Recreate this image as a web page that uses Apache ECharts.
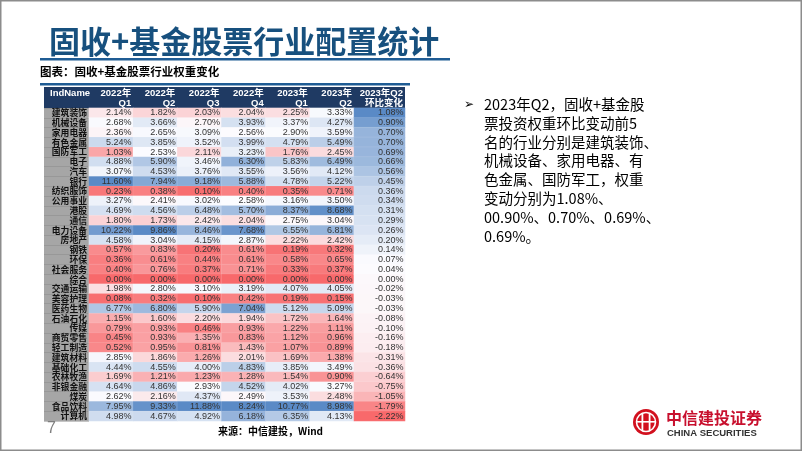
<!DOCTYPE html>
<html><head><meta charset="utf-8">
<script src="https://cdn.jsdelivr.net/npm/echarts@6/dist/echarts.min.js"></script>
<style>html,body{margin:0;padding:0;background:#fff}#c{width:802px;height:451px}</style>
</head><body><div id="c"></div>
<script>
const industries = ['建筑装饰','机械设备','家用电器','有色金属','国防军工','电子','汽车','银行','纺织服饰','公用事业','港股','通信','电力设备','房地产','钢铁','环保','社会服务','综合','交通运输','美容护理','医药生物','石油石化','传媒','商贸零售','轻工制造','建筑材料','基础化工','农林牧渔','非银金融','煤炭','食品饮料','计算机'];
const headers = ['2022年\nQ1','2022年\nQ2','2022年\nQ3','2022年\nQ4','2023年\nQ1','2023年\nQ2'];
const changeHeader = '2023年Q2\n环比变化';
const q2022Q1 = [2.14,2.68,2.36,5.24,1.03,4.88,3.07,11.60,0.23,3.27,4.69,1.80,10.22,4.58,0.57,0.36,0.40,0.00,1.98,0.08,6.77,1.15,0.79,0.45,0.52,2.85,4.44,1.69,4.64,2.62,7.95,4.98];
const q2022Q2 = [1.82,3.66,2.65,3.85,2.53,5.90,4.53,7.94,0.38,2.41,4.56,1.73,9.86,3.04,0.83,0.61,0.76,0.00,2.80,0.32,6.80,1.60,0.93,0.93,0.95,1.86,4.55,1.21,4.86,2.16,9.33,4.67];
const q2022Q3 = [2.03,2.70,3.09,3.52,2.11,3.46,3.76,9.18,0.10,3.02,6.48,2.42,8.46,4.15,0.20,0.44,0.37,0.00,3.10,0.10,5.90,2.20,0.46,1.35,0.81,1.26,4.00,1.23,2.93,4.37,11.88,4.92];
const q2022Q4 = [2.04,3.93,2.56,3.99,3.23,6.30,3.55,5.88,0.40,2.58,5.70,2.04,7.68,2.87,0.61,0.61,0.71,0.00,3.19,0.42,7.04,1.94,0.93,0.83,1.43,2.01,4.83,1.28,4.52,2.49,8.24,6.18];
const q2023Q1 = [2.25,3.37,2.90,4.79,1.76,5.83,3.56,4.78,0.35,3.16,8.37,2.75,6.55,2.22,0.19,0.58,0.33,0.00,4.07,0.19,5.12,1.72,1.22,1.12,1.07,1.69,3.85,1.54,4.02,3.53,10.77,6.35];
const q2023Q2 = [3.33,4.27,3.59,5.49,2.45,6.49,4.12,5.22,0.71,3.50,8.68,3.04,6.81,2.42,0.32,0.65,0.37,0.00,4.05,0.15,5.09,1.64,1.11,0.96,0.89,1.38,3.49,0.90,3.27,2.48,8.98,4.13];
const change = [1.08,0.90,0.70,0.70,0.69,0.66,0.56,0.45,0.36,0.34,0.31,0.29,0.26,0.20,0.14,0.07,0.04,0.00,-0.02,-0.03,-0.03,-0.08,-0.10,-0.16,-0.18,-0.31,-0.36,-0.64,-0.75,-1.05,-1.79,-2.22];

const columns = [q2022Q1,q2022Q2,q2022Q3,q2022Q4,q2023Q1,q2023Q2];

// Excel-style 3 colour scale: min -> red, 50th percentile -> white, max -> blue
function scaler(arr){
  const s = arr.slice().sort((a,b)=>a-b);
  const n = s.length;
  const pos = (n-1)*0.5, lo = Math.floor(pos), hi = Math.ceil(pos);
  const mid = s[lo] + (s[hi]-s[lo])*(pos-lo);
  const mn = s[0], mx = s[n-1];
  return v => v <= mid ? (mid===mn?0.5:0.5*(v-mn)/(mid-mn)) : 0.5 + 0.5*(v-mid)/(mx-mid);
}
const data0 = [];
columns.forEach((col,c)=>{ const f = scaler(col); col.forEach((v,r)=>data0.push([c,r,v,f(v)])); });
const fc = scaler(change);
const data1 = change.map((v,r)=>[0,r,v,fc(v)]);

const chart = echarts.init(document.getElementById('c'), null, {renderer:'canvas'});
const numLabel = {show:true, position:'insideRight', distance:2, fontFamily:'Liberation Sans, Arial', fontSize:9, color:'#333',
  formatter:p=>p.value[2].toFixed(2)+'%'};
const hdrLabel = {color:'#fff', fontWeight:'bold', fontFamily:'Liberation Sans, Noto Sans CJK SC', fontSize:9.5, lineHeight:10, align:'right', padding:[0,2,0,0], margin:0};
const bulletLines = ['2023年Q2，固收+基金股','票投资权重环比变动前5','名的行业分别是建筑装饰、','机械设备、家用电器、有','色金属、国防军工，权重','变动分别为1.08%、','00.90%、0.70%、0.69%、','0.69%。'];

chart.setOption({
  animation:false,
  backgroundColor:'#fff',
  grid:[{left:89, top:108, width:265, height:313},{left:354, top:108, width:51, height:313}],
  xAxis:[
    {type:'category', gridIndex:0, data:[0,1,2,3,4,5], show:false},
    {type:'category', gridIndex:1, data:[0], show:false},
    {type:'value', gridIndex:0, position:'top', min:0, max:6, interval:1, axisLine:{show:false}, axisTick:{show:false}, splitLine:{show:false},
      axisLabel:Object.assign({showMaxLabel:true, showMinLabel:true, formatter:v=> v>=1 ? headers[v-1] : ''}, hdrLabel)},
    {type:'value', gridIndex:1, position:'top', min:0, max:1, interval:1, axisLine:{show:false}, axisTick:{show:false}, splitLine:{show:false},
      axisLabel:Object.assign({showMaxLabel:true, showMinLabel:true, formatter:v=> v===1 ? changeHeader : ''}, hdrLabel)}
  ],
  yAxis:[
    {type:'category', gridIndex:0, data:industries, inverse:true, axisLine:{show:false},
      axisTick:{show:true, interval:0, length:45, lineStyle:{color:'#8a8a8a', width:0.5}},
      axisLabel:{interval:0, margin:2, fontSize:8.8, lineHeight:9, fontWeight:'bold', color:'#111', fontFamily:'Noto Sans CJK SC', align:'right', verticalAlign:'middle', padding:[0,0,1,0]}},
    {type:'category', gridIndex:1, data:industries, inverse:true, show:false}
  ],
  visualMap:{type:'continuous', show:false, dimension:3, min:0, max:1, seriesIndex:[0,1], inRange:{color:['#F8696B','#FCFCFF','#5A8AC6']}},
  series:[
    {type:'heatmap', xAxisIndex:0, yAxisIndex:0, data:data0, label:numLabel, itemStyle:{borderColor:'rgba(255,255,255,0.35)', borderWidth:0.3}},
    {type:'heatmap', xAxisIndex:1, yAxisIndex:1, data:data1, label:numLabel, itemStyle:{borderColor:'rgba(255,255,255,0.35)', borderWidth:0.3}}
  ],
  graphic:[
    {type:'rect', z:-10, shape:{x:0.75,y:0.75,width:800.5,height:449.5}, style:{fill:'#fff', stroke:'#8c8c8c', lineWidth:1.5}},
    {type:'text', z:5, left:49, top:26, style:{text:'固收+基金股票行业配置统计', font:'bold 31px "Noto Sans CJK SC"', fill:'#17507e'}},
    {type:'rect', z:5, shape:{x:40,y:58,width:410,height:2.5}, style:{fill:'#1f5c94'}},
    {type:'text', z:5, left:40, top:66, style:{text:'图表：固收+基金股票行业权重变化', font:'bold 11.5px "Noto Sans CJK SC"', fill:'#000'}},
    {type:'rect', z:5, shape:{x:40,y:83,width:370,height:2.5}, style:{fill:'#1f5c94'}},
    {type:'rect', z:-5, shape:{x:44,y:87,width:361,height:21}, style:{fill:'#1f3a63'}},
    {type:'rect', z:-5, shape:{x:44,y:108,width:45,height:313}, style:{fill:'#a6a6a6'}},
    {type:'text', z:5, left:50, top:88, style:{text:'IndName', font:'bold 9.5px "Liberation Sans"', fill:'#fff'}},
    {type:'text', z:5, left:464, top:99, style:{text:'➢', font:'12px "DejaVu Sans"', fill:'#000'}},
    ...bulletLines.map((t,i)=>({type:'text', z:5, left:484, top:97+i*18.9, style:{text:t, font:'14.5px "Noto Sans CJK SC"', fill:'#000'}})),
    {type:'text', z:5, left:47, top:421, style:{text:'7', font:'16px "Liberation Sans"', fill:'#7f7f7f'}},
    {type:'text', z:5, left:218, top:426, style:{text:'来源：中信建投，Wind', font:'bold 10px "Noto Sans CJK SC"', fill:'#000'}},
    {type:'circle', z:5, shape:{cx:646,cy:422,r:13}, style:{fill:'#d2101e'}},
    {type:'circle', z:6, shape:{cx:646,cy:422,r:9.5}, style:{fill:'none', stroke:'#fff', lineWidth:1.6}},
    {type:'rect', z:7, shape:{x:641.5,y:413,width:1.8,height:18}, style:{fill:'#fff'}},
    {type:'rect', z:7, shape:{x:648.7,y:413,width:1.8,height:18}, style:{fill:'#fff'}},
    {type:'rect', z:7, shape:{x:637,y:421,width:18,height:1.6}, style:{fill:'#fff'}},
    {type:'text', z:5, left:666, top:410, style:{text:'中信建投证券', font:'bold 16px "Noto Sans CJK SC"', fill:'#c8102e'}},
    {type:'text', z:5, left:667, top:428, style:{text:'CHINA SECURITIES', font:'bold 9.5px "Liberation Sans"', fill:'#333'}}
  ]
});
</script></body></html>
